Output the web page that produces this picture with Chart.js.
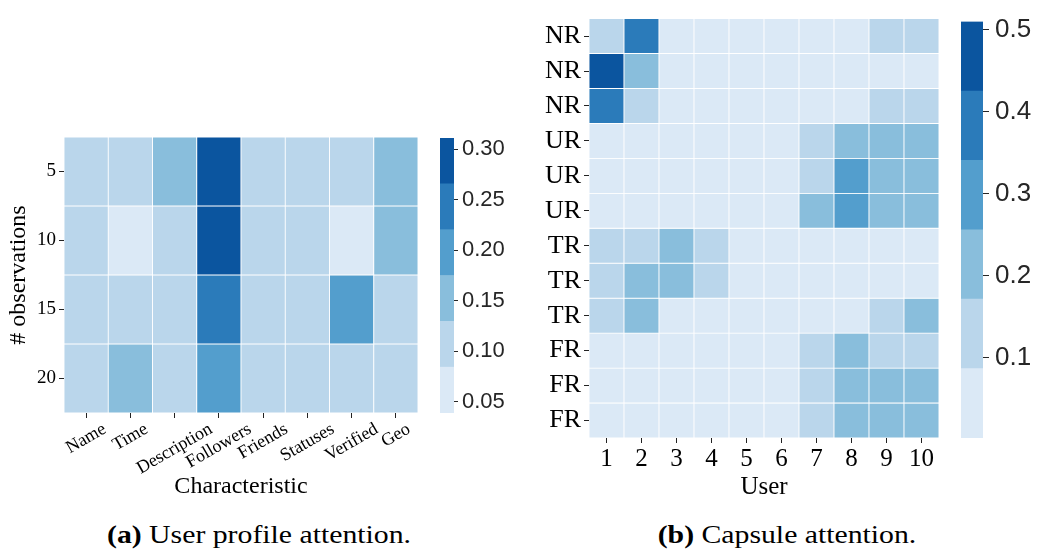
<!DOCTYPE html>
<html>
<head>
<meta charset="utf-8">
<script src="https://cdn.jsdelivr.net/npm/chart.js@4.4.0/dist/chart.umd.min.js"></script>
<style>
  html, body { margin: 0; padding: 0; background: #fff; }
  body { width: 1042px; height: 550px; position: relative; overflow: hidden; }
  canvas { position: absolute; top: 0; }
  .cap { position: absolute; top: 521px; font-family: "Liberation Serif", serif; font-size: 25px; color: #000; white-space: nowrap; transform: translateX(-50%) scaleX(1.19); }
</style>
</head>
<body>
<canvas id="c1" width="430" height="505" style="left:0px"></canvas>
<canvas id="c2" width="100" height="505" style="left:430px"></canvas>
<canvas id="c3" width="430" height="505" style="left:520px"></canvas>
<canvas id="c4" width="92" height="505" style="left:950px"></canvas>
<div class="cap" style="left:259px"><b>(a)</b> User profile attention.</div>
<div class="cap" style="left:787px"><b>(b)</b> Capsule attention.</div>
<script>
// ---------------- data ----------------
const profileRows = ['5', '10', '15', '20'];
const profileCols = ['Name', 'Time', 'Description', 'Followers', 'Friends', 'Statuses', 'Verified', 'Geo'];
const profileValues = [
  [0.107, 0.105, 0.155, 0.311, 0.110, 0.108, 0.112, 0.158],
  [0.104, 0.039, 0.110, 0.300, 0.108, 0.106, 0.062, 0.150],
  [0.109, 0.112, 0.106, 0.245, 0.104, 0.110, 0.200, 0.115],
  [0.103, 0.150, 0.108, 0.205, 0.106, 0.109, 0.111, 0.113]
];
const profileBarTicks = [0.05, 0.10, 0.15, 0.20, 0.25, 0.30];

const capsuleRows = ['NR', 'NR', 'NR', 'UR', 'UR', 'UR', 'TR', 'TR', 'TR', 'FR', 'FR', 'FR'];
const capsuleCols = ['1', '2', '3', '4', '5', '6', '7', '8', '9', '10'];
const capsuleValues = [
  [0.13, 0.40, 0.04, 0.03, 0.03, 0.03, 0.05, 0.06, 0.12, 0.11],
  [0.51, 0.20, 0.03, 0.02, 0.02, 0.02, 0.04, 0.05, 0.07, 0.06],
  [0.38, 0.12, 0.03, 0.02, 0.02, 0.02, 0.05, 0.06, 0.12, 0.13],
  [0.03, 0.03, 0.03, 0.03, 0.02, 0.02, 0.14, 0.22, 0.21, 0.22],
  [0.02, 0.02, 0.02, 0.02, 0.02, 0.02, 0.15, 0.31, 0.23, 0.22],
  [0.02, 0.02, 0.02, 0.02, 0.02, 0.02, 0.21, 0.30, 0.22, 0.21],
  [0.13, 0.15, 0.21, 0.12, 0.05, 0.04, 0.05, 0.05, 0.04, 0.04],
  [0.14, 0.22, 0.21, 0.12, 0.05, 0.04, 0.04, 0.05, 0.05, 0.04],
  [0.14, 0.23, 0.05, 0.04, 0.04, 0.04, 0.05, 0.06, 0.13, 0.22],
  [0.03, 0.03, 0.03, 0.03, 0.03, 0.03, 0.15, 0.21, 0.14, 0.13],
  [0.03, 0.03, 0.03, 0.03, 0.03, 0.03, 0.14, 0.22, 0.21, 0.20],
  [0.002, 0.03, 0.03, 0.03, 0.03, 0.03, 0.14, 0.22, 0.21, 0.21]
];
const capsuleBarTicks = [0.1, 0.2, 0.3, 0.4, 0.5];

const palette = ['#dbe9f6', '#bad6eb', '#89bedc', '#539ecd', '#2b7bba', '#0b559f'];

// ---------------- helpers ----------------
const SERIF = '"Liberation Serif", "Times New Roman", serif';
const SANS = '"Liberation Sans", Arial, sans-serif';

function range(vals) {
  const flat = vals.flat();
  return [Math.min(...flat), Math.max(...flat)];
}
function colorFor(v, lo, hi) {
  let k = Math.floor((v - lo) / (hi - lo) * palette.length);
  if (k < 0) k = 0;
  if (k > palette.length - 1) k = palette.length - 1;
  return palette[k];
}

function heatmap(canvasId, rows, cols, values, geo, fonts, extraPlugins, showXTicks, xTitle, yTitle) {
  const [lo, hi] = range(values);
  const datasets = rows.map((r, i) => ({
    data: cols.map(() => [i, i + 1]),
    backgroundColor: values[i].map(v => colorFor(v, lo, hi)),
    borderColor: '#ffffff',
    borderWidth: 0.8,
    borderSkipped: false,
    grouped: false,
    barPercentage: 1,
    categoryPercentage: 1
  }));
  return new Chart(document.getElementById(canvasId), {
    type: 'bar',
    data: { labels: cols, datasets },
    plugins: extraPlugins,
    options: {
      responsive: false,
      animation: false,
      events: [],
      layout: { padding: { top: geo.top, right: geo.right, bottom: 0, left: 0 } },
      plugins: { legend: { display: false }, tooltip: { enabled: false } },
      scales: {
        x: {
          type: 'category',
          offset: true,
          grid: { display: true, drawOnChartArea: false, drawTicks: true, tickLength: 5, offset: false, color: '#222', lineWidth: 1 },
          border: { display: false },
          ticks: { display: showXTicks, font: { family: SERIF, size: fonts.xTick }, color: '#000', padding: 1, maxRotation: 0, autoSkip: false },
          title: { display: true, text: xTitle, font: { family: SERIF, size: fonts.title }, color: '#000', padding: { top: 0, bottom: fonts.xTitlePad } },
          afterFit: s => { s.height = geo.xHeight; }
        },
        y: {
          type: 'linear',
          min: 0,
          max: rows.length,
          reverse: true,
          grid: { display: true, drawOnChartArea: false, drawTicks: true, tickLength: 5, color: '#222', lineWidth: 1 },
          border: { display: false },
          afterBuildTicks: s => { s.ticks = rows.map((_, i) => ({ value: i + 0.5 })); },
          ticks: { autoSkip: false, font: { family: SERIF, size: fonts.yTick }, color: '#000', padding: 3,
                   callback: (v, idx) => rows[idx] },
          title: { display: !!yTitle, text: yTitle || '', font: { family: SERIF, size: fonts.title }, color: '#000', padding: { top: fonts.yTitlePad, bottom: 0 } },
          afterFit: s => { s.width = geo.yWidth; }
        }
      }
    }
  });
}

function colorbar(canvasId, values, tickVals, geo, fontSize, decimals) {
  const [lo, hi] = range(values);
  const step = (hi - lo) / palette.length;
  const datasets = palette.map((c, k) => ({
    data: [[lo + k * step, lo + (k + 1) * step]],
    backgroundColor: c,
    borderWidth: 0,
    grouped: false,
    barPercentage: 1,
    categoryPercentage: 1
  }));
  return new Chart(document.getElementById(canvasId), {
    type: 'bar',
    data: { labels: [''], datasets },
    options: {
      responsive: false,
      animation: false,
      events: [],
      layout: { padding: { top: geo.top, bottom: geo.bottom, left: geo.left, right: 0 } },
      plugins: { legend: { display: false }, tooltip: { enabled: false } },
      scales: {
        x: { display: false, offset: true },
        y: {
          type: 'linear',
          position: 'right',
          min: lo,
          max: hi,
          grid: { display: true, drawOnChartArea: false, drawTicks: true, tickLength: geo.tick, color: '#262626', lineWidth: 1 },
          border: { display: false },
          afterBuildTicks: s => { s.ticks = tickVals.map(v => ({ value: v })); },
          ticks: { autoSkip: false, font: { family: SANS, size: fontSize }, color: '#262626', padding: geo.pad,
                   callback: v => Number(v).toFixed(decimals) },
          afterFit: s => { s.width = geo.yWidth; }
        }
      }
    }
  });
}

// rotated, centred x tick labels for the profile heatmap
const rotatedXLabels = {
  id: 'rotatedXLabels',
  afterDraw(chart) {
    const sc = chart.scales.x;
    const ctx = chart.ctx;
    const size = 18;
    const ang = 30 * Math.PI / 180;
    ctx.save();
    ctx.font = size + 'px ' + SERIF;
    ctx.fillStyle = '#000';
    ctx.textAlign = 'center';
    ctx.textBaseline = 'middle';
    chart.data.labels.forEach((lab, i) => {
      const x = sc.getPixelForTick(i);
      const w = ctx.measureText(lab).width;
      const top = sc.top + 7;
      const cy = top + (w * Math.sin(ang) + size * Math.cos(ang)) / 2;
      ctx.save();
      ctx.translate(x, cy);
      ctx.rotate(-ang);
      ctx.fillText(lab, 0, 0);
      ctx.restore();
    });
    ctx.restore();
  }
};

// ---------------- charts ----------------
heatmap('c1', profileRows, profileCols, profileValues,
  { top: 137, right: 12, xHeight: 92, yWidth: 64 },
  { xTick: 18, yTick: 19, title: 24, xTitlePad: 3.6, yTitlePad: 4.6 },
  [rotatedXLabels], false, 'Characteristic', '# observations');

colorbar('c2', profileValues, profileBarTicks,
  { top: 138, bottom: 92, left: 10, yWidth: 76, tick: 4, pad: 4 }, 22, 2);

heatmap('c3', capsuleRows, capsuleCols, capsuleValues,
  { top: 12, right: 11, xHeight: 67, yWidth: 69 },
  { xTick: 25, yTick: 26, title: 25, xTitlePad: 3, yTitlePad: 0 },
  [], true, 'User', null);

colorbar('c4', capsuleValues, capsuleBarTicks,
  { top: 11, bottom: 67, left: 11, yWidth: 59, tick: 6, pad: 6 }, 26, 1);
</script>
</body>
</html>
